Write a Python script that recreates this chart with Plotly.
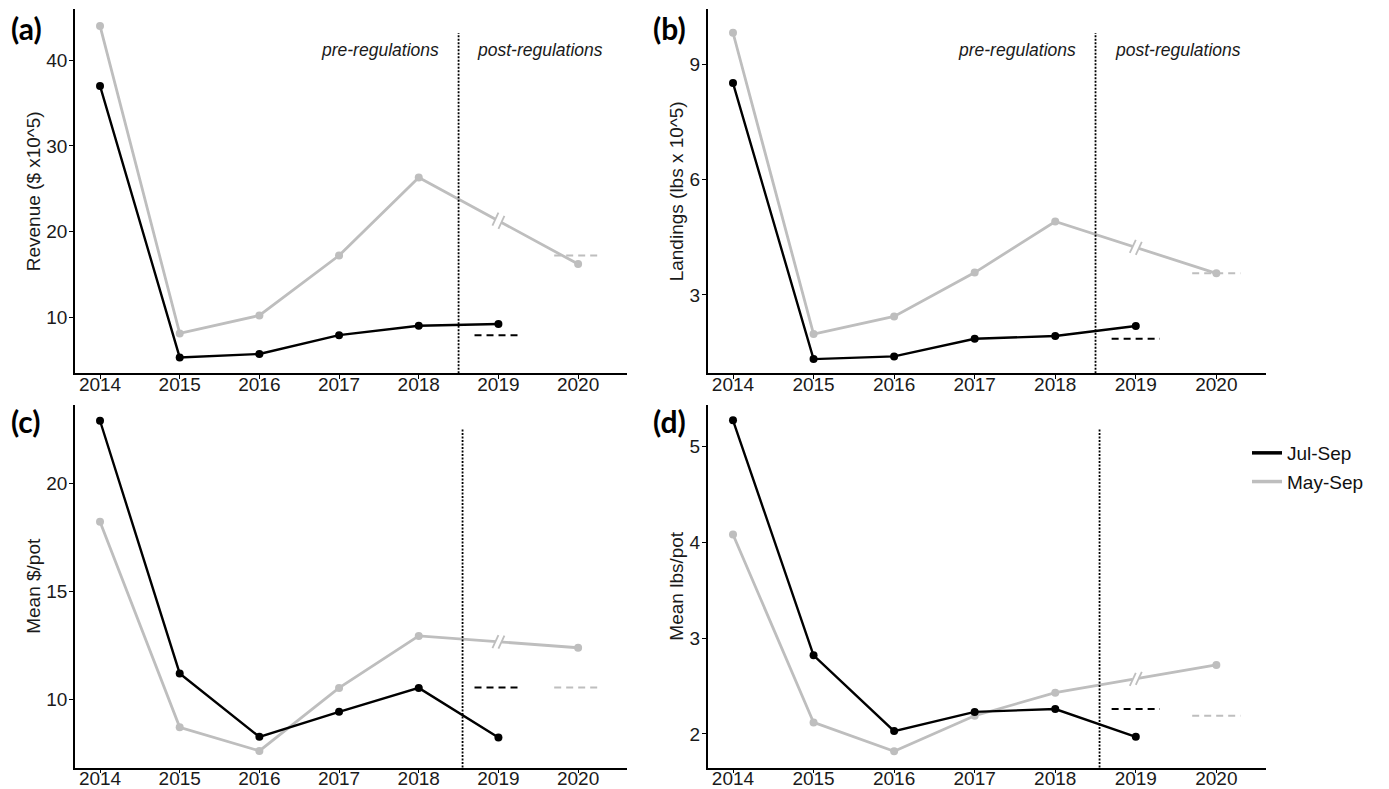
import plotly.graph_objects as go

# ---------------- data ----------------
jul_years = [2014, 2015, 2016, 2017, 2018, 2019]
may_years = [2014, 2015, 2016, 2017, 2018, 2020]
tick_years = [2014, 2015, 2016, 2017, 2018, 2019, 2020]

revenue_jul = [37.0, 5.3, 5.7, 7.9, 9.0, 9.2]
revenue_may = [44.0, 8.1, 10.2, 17.2, 26.3, 16.2]
revenue_ref = [7.9, 17.2]          # Jul-Sep (2019), May-Sep (2020)

landings_jul = [8.51, 1.33, 1.40, 1.86, 1.93, 2.19]
landings_may = [9.82, 1.98, 2.44, 3.58, 4.91, 3.56]
landings_ref = [1.86, 3.56]

dollar_pot_jul = [22.9, 11.19, 8.25, 9.41, 10.52, 8.22]
dollar_pot_may = [18.22, 8.69, 7.60, 10.52, 12.93, 12.38]
dollar_pot_ref = [10.54, 10.54]

lbs_pot_jul = [5.27, 2.82, 2.03, 2.23, 2.26, 1.97]
lbs_pot_may = [4.08, 2.12, 1.82, 2.19, 2.43, 2.72]
lbs_pot_ref = [2.26, 2.19]

ref_years = [2019, 2020]
break_year = 2019
regulation_year = [2018.5, 2018.5, 2018.55, 2018.55]

series_names = ["Jul-Sep", "May-Sep"]
panel_letters = ["(a)", "(b)", "(c)", "(d)"]
y_titles = ["Revenue ($ x10^5)", "Landings (lbs x 10^5)", "Mean $/pot", "Mean lbs/pot"]
y_ticks = [[10, 20, 30, 40], [3, 6, 9], [10, 15, 20], [2, 3, 4, 5]]
y_ranges = [[3.45, 45.94], [0.96, 10.43], [6.83, 23.63], [1.65, 5.43]]
x_range = [2013.686, 2020.61]
period_labels = ["pre-regulations", "post-regulations"]
period_label_x = [2017.52, 2019.52]

series_jul = [revenue_jul, landings_jul, dollar_pot_jul, lbs_pot_jul]
series_may = [revenue_may, landings_may, dollar_pot_may, lbs_pot_may]
series_ref = [revenue_ref, landings_ref, dollar_pot_ref, lbs_pot_ref]

# ---------------- layout geometry (pixels) ----------------
W, H = 1389, 789
col_px = [(75, 626.7), (707.7, 1265.5)]
row_px = [(9.3, 373.3), (405, 767.5)]

BLACK = "#000000"
GRAY = "#BEBEBE"
FONT = "Liberation Sans, Arial, sans-serif"
TXT = "#1a1a1a"

fig = go.Figure()

layout = dict(
    width=W, height=H, autosize=False,
    margin=dict(l=0, r=0, t=0, b=0),
    paper_bgcolor="white", plot_bgcolor="white",
    font=dict(family=FONT, color=TXT, size=19),
    showlegend=True,
    legend=dict(x=1247 / W, y=1 - 434 / H, xanchor="left", yanchor="top",
                font=dict(size=19, family=FONT, color="#111"),
                bgcolor="rgba(0,0,0,0)", tracegroupgap=1, traceorder="grouped"),
)
shapes = []
annotations = []

for i in range(4):
    r, c = divmod(i, 2)
    s = "" if i == 0 else str(i + 1)
    xa, ya = "x" + s, "y" + s
    (x0p, x1p), (y0p, y1p) = col_px[c], row_px[r]
    xdom = [x0p / W, x1p / W]
    ydom = [1 - y1p / H, 1 - y0p / H]

    axis_common = dict(showline=True, linecolor="black", linewidth=1.6,
                       ticks="outside", ticklen=4, tickwidth=1.3, tickcolor="black",
                       showgrid=False, zeroline=False, automargin=False,
                       tickfont=dict(family=FONT, size=19, color=TXT))
    layout["xaxis" + s] = dict(axis_common, domain=xdom, range=x_range, anchor=ya,
                               tickmode="array", tickvals=tick_years,
                               ticktext=[str(t) for t in tick_years],
                               ticklabelstandoff=-11)
    layout["yaxis" + s] = dict(axis_common, domain=ydom, range=y_ranges[i], anchor=xa,
                               tickmode="array", tickvals=y_ticks[i],
                               ticklabelstandoff=-2,
                               title=dict(text=y_titles[i], standoff=1,
                                          font=dict(family=FONT, size=19, color=TXT)))

    # May-Sep (gray) line and points
    fig.add_trace(go.Scatter(
        x=may_years, y=series_may[i], mode="lines+markers", name=series_names[1],
        line=dict(color=GRAY, width=2.8), marker=dict(color=GRAY, size=8),
        xaxis=xa, yaxis=ya, showlegend=False))
    # Jul-Sep (black) line and points
    fig.add_trace(go.Scatter(
        x=jul_years, y=series_jul[i], mode="lines+markers", name=series_names[0],
        line=dict(color=BLACK, width=2.4), marker=dict(color=BLACK, size=8),
        xaxis=xa, yaxis=ya, showlegend=False))
    # reference dashed levels
    for ref_val, ref_year, col in zip(series_ref[i], ref_years, [BLACK, GRAY]):
        fig.add_trace(go.Scatter(
            x=[ref_year - 0.3, ref_year + 0.3], y=[ref_val, ref_val], mode="lines",
            line=dict(color=col, width=2, dash="7px,5px"), hoverinfo="skip",
            xaxis=xa, yaxis=ya, showlegend=False))

    # regulation divider (dotted)
    shapes.append(dict(type="line", xref=xa, yref=ya + " domain",
                       x0=regulation_year[i], x1=regulation_year[i], y0=0, y1=0.935,
                       line=dict(color="black", width=1.8, dash="2px,1.5px")))

    # axis break marker "//" on the gray line at break_year
    ys = series_may[i]
    ya_, yb_ = ys[4], ys[5]
    xa_, xb_ = may_years[4], may_years[5]
    yb = ya_ + (yb_ - ya_) * (break_year - xa_) / (xb_ - xa_)
    px_per_x = (x1p - x0p) / (x_range[1] - x_range[0])
    px_per_y = (y1p - y0p) / (y_ranges[i][1] - y_ranges[i][0])
    slope = ((yb_ - ya_) / (xb_ - xa_)) * px_per_y / px_per_x
    gap = 3.0
    shapes.append(dict(type="line", xref=xa, yref=ya, xsizemode="pixel", ysizemode="pixel",
                       xanchor=break_year, yanchor=yb,
                       x0=-gap, x1=gap, y0=-gap * slope, y1=gap * slope,
                       line=dict(color="white", width=6)))
    for sgn in (-1, 1):
        cx, cy = sgn * gap, sgn * gap * slope
        shapes.append(dict(type="line", xref=xa, yref=ya, xsizemode="pixel", ysizemode="pixel",
                           xanchor=break_year, yanchor=yb,
                           x0=cx - 3, x1=cx + 3, y0=cy - 6.5, y1=cy + 6.5,
                           line=dict(color=GRAY, width=1.8)))

    # panel letter
    lx = 9 if c == 0 else 651
    ly = 28 if r == 0 else 421
    annotations.append(dict(text="<b>" + panel_letters[i] + "</b>", xref="paper", yref="paper",
                            x=lx / W, y=1 - ly / H, xanchor="left", yanchor="middle",
                            showarrow=False, font=dict(family="Lato, Open Sans, sans-serif",
                                                       size=30, color="black")))
    # period labels on the top row
    if r == 0:
        for txt, tx in zip(period_labels, period_label_x):
            annotations.append(dict(text="<i>" + txt + "</i>", xref=xa, yref=ya + " domain",
                                    x=tx, y=1 - (50 - y0p) / (y1p - y0p),
                                    xanchor="center", yanchor="middle", showarrow=False,
                                    font=dict(family=FONT, size=17.5, color=TXT)))

# legend entries (line keys, no markers)
for name, col, lw in zip(series_names, [BLACK, GRAY], [3.5, 3.5]):
    fig.add_trace(go.Scatter(x=[None], y=[None], mode="lines", name=name,
                             line=dict(color=col, width=lw), xaxis="x4", yaxis="y4",
                             showlegend=True, legendgroup=name))

layout["shapes"] = shapes
layout["annotations"] = annotations
fig.update_layout(**layout)
fig.write_html("out.html")
